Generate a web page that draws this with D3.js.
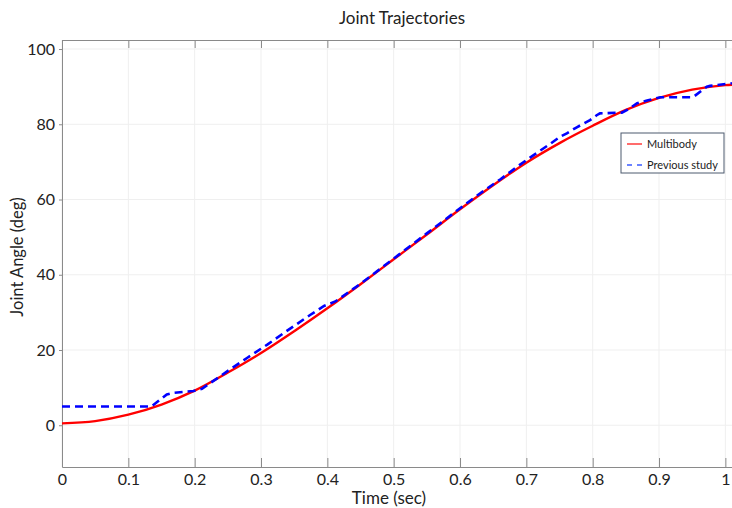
<!DOCTYPE html>
<html>
<head>
<meta charset="utf-8">
<script src="https://cdn.jsdelivr.net/npm/d3@7"></script>
<style>
  body { margin: 0; background: #fff; }
  svg text { font-family: Lato, "Open Sans", sans-serif; fill: #222; }
</style>
</head>
<body>
<svg width="732" height="508"></svg>
<script>
// tempo (s) e angulo (graus)
var timeTicks = [0, 0.1, 0.2, 0.3, 0.4, 0.5, 0.6, 0.7, 0.8, 0.9, 1];
var angleTicks = [0, 20, 40, 60, 80, 100];

var multibodyTime = [0, 0.05, 0.1, 0.15, 0.2, 0.25, 0.3, 0.35, 0.4, 0.45, 0.5, 0.55,
  0.6, 0.65, 0.7, 0.75, 0.8, 0.85, 0.9, 0.95, 1.0, 1.01];
var multibodyAngle = [0.5, 1.1, 2.8, 5.5, 9.2, 14.0, 19.2, 25.0, 31.1, 37.5, 44.1, 50.7,
  57.4, 63.8, 69.8, 75.0, 79.6, 83.8, 87.0, 89.2, 90.4, 90.5];

var previousTime = [0, 0.135, 0.148, 0.158, 0.167, 0.198, 0.211, 0.23, 0.253, 0.28, 0.31,
  0.34, 0.374, 0.395, 0.412, 0.45, 0.5, 0.55, 0.595, 0.63, 0.661, 0.69, 0.711, 0.736,
  0.751, 0.761, 0.776, 0.796, 0.806, 0.811, 0.844, 0.852, 0.867, 0.882, 0.902, 0.947,
  0.952, 0.972, 0.977, 1.01];
var previousAngle = [5.0, 5.0, 6.8, 8.2, 8.6, 9.1, 9.7, 12.0, 14.8, 18.0, 21.5,
  25.2, 29.3, 31.7, 32.9, 37.6, 44.3, 51.0, 57.0, 61.6, 65.4, 69.2, 71.8, 74.8,
  76.7, 77.6, 79.2, 81.1, 82.4, 82.9, 83.1, 83.8, 85.6, 86.3, 87.2, 87.2,
  87.3, 90.0, 90.2, 90.9];

var legendNames = ["Multibody", "Previous study"];

var svg = d3.select("svg");

var x = d3.scaleLinear().domain([0, 1.01]).range([62, 732]);
var y = d3.scaleLinear().domain([-11.1, 102.4]).range([467, 40]);

// grade
svg.append("g").selectAll("line").data(timeTicks).join("line")
  .attr("x1", d => x(d)).attr("x2", d => x(d))
  .attr("y1", 40).attr("y2", 467)
  .attr("stroke", "#efefef").attr("stroke-width", 1);
svg.append("g").selectAll("line").data(angleTicks).join("line")
  .attr("x1", 62).attr("x2", 732)
  .attr("y1", d => y(d)).attr("y2", d => y(d))
  .attr("stroke", "#efefef").attr("stroke-width", 1);

// eixos
var bottomAxis = svg.append("g").attr("transform", "translate(0,467)")
  .call(d3.axisBottom(x).tickValues(timeTicks).tickFormat(d3.format("~g"))
    .tickSizeInner(-9).tickSizeOuter(0).tickPadding(7));
var topAxis = svg.append("g").attr("transform", "translate(0,40)")
  .call(d3.axisTop(x).tickValues(timeTicks).tickFormat("")
    .tickSizeInner(-8).tickSizeOuter(0));
var leftAxis = svg.append("g").attr("transform", "translate(62,0)")
  .call(d3.axisLeft(y).tickValues(angleTicks)
    .tickSizeInner(3).tickSizeOuter(0).tickPadding(4));

[bottomAxis, topAxis, leftAxis].forEach(function (a) {
  a.select(".domain").attr("stroke", "#8a8a8a");
  a.selectAll(".tick line").attr("stroke", "#8a8a8a");
  a.selectAll(".tick text").attr("font-size", 16).attr("fill", "#222")
    .attr("font-family", "Lato, 'Open Sans', sans-serif");
});

// curvas
var line = d3.line().x(d => x(d[0])).y(d => y(d[1]));

svg.append("path")
  .datum(d3.zip(multibodyTime, multibodyAngle))
  .attr("d", line.curve(d3.curveMonotoneX))
  .attr("fill", "none").attr("stroke", "#ff0000").attr("stroke-width", 2.4);

svg.append("path")
  .datum(d3.zip(previousTime, previousAngle))
  .attr("d", line.curve(d3.curveLinear))
  .attr("fill", "none").attr("stroke", "#0000ff").attr("stroke-width", 2.6)
  .attr("stroke-dasharray", "8,5");

// textos
svg.append("text").attr("x", 402).attr("y", 24).attr("text-anchor", "middle")
  .attr("font-size", 17).text("Joint Trajectories");
svg.append("text").attr("x", 389).attr("y", 504).attr("text-anchor", "middle")
  .attr("font-size", 17).text("Time (sec)");
svg.append("text").attr("transform", "translate(23,257) rotate(-90)")
  .attr("text-anchor", "middle").attr("font-size", 16.5).text("Joint Angle (deg)");

// legenda
var legend = svg.append("g").attr("transform", "translate(621,133)");
legend.append("rect").attr("width", 103).attr("height", 40)
  .attr("fill", "#fff").attr("stroke", "#4d5a6e").attr("stroke-width", 1);
var rows = legend.selectAll("g.row").data(legendNames).join("g")
  .attr("class", "row")
  .attr("transform", (d, i) => "translate(0," + (11 + i * 21) + ")");
rows.append("line").attr("x1", 6).attr("x2", 21).attr("y1", 0).attr("y2", 0)
  .attr("stroke", (d, i) => i === 0 ? "#ff3b3b" : "#3b5bff")
  .attr("stroke-width", 1.5)
  .attr("stroke-dasharray", (d, i) => i === 0 ? null : "5,5");
rows.append("text").attr("x", 26).attr("y", 4)
  .attr("font-size", 11).text(d => d);
</script>
</body>
</html>
